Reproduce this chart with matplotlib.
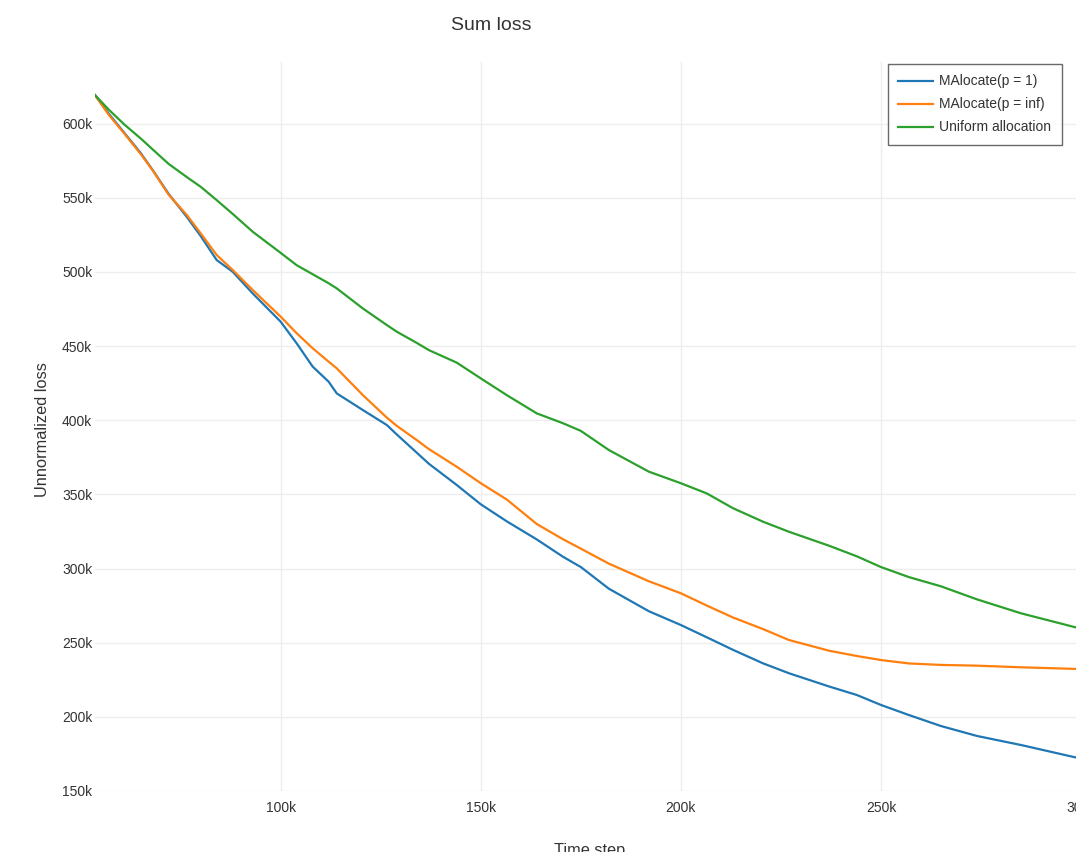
"""
Sum loss over training time for three allocation strategies.
"""

import matplotlib.pyplot as plt
from matplotlib.ticker import FuncFormatter

plt.rcParams["font.family"] = ["Liberation Sans", "DejaVu Sans"]

# time step in thousands
steps = [53.6, 57, 61, 65, 68, 72, 76.5, 80, 84, 88, 93, 100, 104, 108, 112,
         114, 120.5, 126.5, 129, 134, 137, 144, 150, 156.5, 164, 170.5, 175,
         182, 192, 200, 206.5, 213, 220.5, 227, 237, 244, 250, 257, 265, 274,
         285, 300]

# loss in thousands
loss_p1 = [619.2, 606.8, 593.5, 580.2, 568.7, 552.6, 537.2, 524.2, 508.0,
           500.1, 485.5, 466.4, 451.8, 436.1, 425.9, 418.1, 406.9, 396.8,
           390.4, 378.1, 370.7, 356.3, 343.3, 331.8, 319.6, 308.0, 301.0,
           286.4, 271.2, 261.9, 253.6, 245.2, 236.1, 229.4, 220.5, 214.7,
           208.0, 201.2, 193.8, 187.1, 181.0, 171.8]

loss_pinf = [619.2, 606.0, 593.0, 579.5, 568.5, 552.0, 538.5, 526.0, 511.4,
             501.3, 487.8, 469.8, 458.6, 448.5, 439.4, 435.0, 417.0, 401.8,
             396.2, 386.6, 380.6, 368.6, 357.5, 346.5, 330.0, 319.8, 313.4,
             303.3, 291.4, 283.3, 275.0, 267.0, 259.2, 251.8, 244.6, 241.0,
             238.3, 236.0, 235.0, 234.5, 233.4, 232.2]

loss_uniform = [619.2, 609.5, 599.2, 590.0, 582.6, 572.8, 564.0, 557.4, 548.4,
                539.1, 527.1, 512.8, 504.5, 498.4, 492.3, 488.9, 475.4, 464.2,
                459.7, 452.1, 447.3, 438.8, 428.2, 416.9, 404.6, 398.0, 392.8,
                379.9, 365.3, 357.5, 350.6, 340.7, 331.6, 324.8, 315.4, 308.2,
                301.0, 294.2, 288.0, 279.2, 269.8, 259.4]

x_ticks = [100, 150, 200, 250, 300]
y_ticks = [150, 200, 250, 300, 350, 400, 450, 500, 550, 600]

fig = plt.figure(figsize=(10.76, 8.52), dpi=100)
ax = fig.add_axes([0.0883, 0.0716, 0.9164, 0.8556])

ax.plot(steps, loss_p1, color="#1f77b4", linewidth=1.6, label="MAlocate(p = 1)")
ax.plot(steps, loss_pinf, color="#ff7f0e", linewidth=1.6, label="MAlocate(p = inf)")
ax.plot(steps, loss_uniform, color="#2ca02c", linewidth=1.6, label="Uniform allocation")

ax.set_xlim(steps[0], 300)
ax.set_ylim(150, 641.5)
ax.set_xticks(x_ticks)
ax.set_yticks(y_ticks)
ax.xaxis.set_major_formatter(FuncFormatter(lambda v, _: f"{v:.0f}k"))
ax.yaxis.set_major_formatter(FuncFormatter(lambda v, _: f"{v:.0f}k"))
ax.tick_params(axis="both", length=0, labelsize=10, colors="#333333")
ax.tick_params(axis="y", pad=2)
ax.tick_params(axis="x", pad=7)
ax.grid(True, color="#eeeeee", linewidth=1)
ax.set_axisbelow(True)
for spine in ax.spines.values():
    spine.set_visible(False)

fig.text(491 / 1076, 1 - 26 / 852, "Sum loss", ha="center", va="center",
         fontsize=14, color="#333333")
fig.text(43 / 1076, 1 - 430 / 852, "Unnormalized loss", ha="center",
         va="center", rotation=90, fontsize=11.8, color="#333333")
fig.text(590 / 1076, 1 - 851 / 852, "Time step", ha="center", va="center",
         fontsize=11.8, color="#333333")

leg = ax.legend(loc="upper left", bbox_to_anchor=(888 / 1076, 1 - 64 / 852),
                bbox_transform=fig.transFigure, fontsize=10, frameon=True,
                fancybox=False, edgecolor="#444444", handlelength=2.5,
                borderpad=0.75, labelspacing=0.65, handletextpad=0.45,
                borderaxespad=0)
leg.get_frame().set_linewidth(1)
for text in leg.get_texts():
    text.set_color("#333333")

fig.savefig("out.png", dpi=100)
